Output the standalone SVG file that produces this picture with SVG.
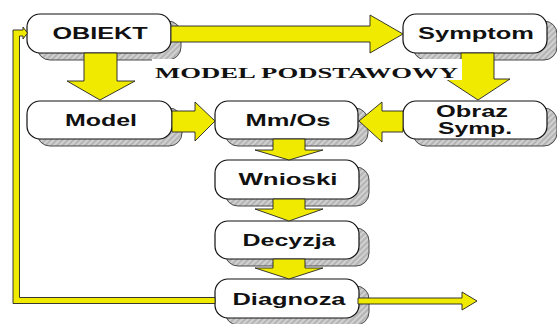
<svg xmlns="http://www.w3.org/2000/svg" width="557" height="324" viewBox="0 0 557 324">
<defs>
<pattern id="hatch" width="4" height="4" patternUnits="userSpaceOnUse" patternTransform="rotate(45)">
<rect width="4" height="4" fill="#b4b4b4"/>
<line x1="1" y1="0" x2="1" y2="4" stroke="#dedede" stroke-width="1.4"/>
</pattern>
</defs>
<style>
.sh{fill:url(#hatch);stroke:#4a4a4a;stroke-width:1}
.bx{fill:#fff;stroke:#111;stroke-width:1.2}
.lb{font-family:"Liberation Sans",Arial,sans-serif;font-weight:bold;font-size:16px;fill:#111;text-anchor:middle}
.ar{fill:#f0ea00;stroke:#222;stroke-width:0.9;stroke-linejoin:miter}
.ttl{font-family:"Liberation Serif","Times New Roman",serif;font-weight:bold;font-size:15px;fill:#111}
</style>
<rect width="557" height="324" fill="#fff"/>

<g id="obiekt">
<rect class="sh" x="37" y="21" width="144" height="39" rx="13"/>
<rect class="bx" x="27" y="14" width="144" height="39" rx="13"/>
<text class="lb" x="100" y="38.5" textLength="95" lengthAdjust="spacingAndGlyphs">OBIEKT</text>
</g>
<g id="symptom">
<rect class="sh" x="413" y="21" width="144" height="39" rx="13"/>
<rect class="bx" x="403" y="14" width="144" height="39" rx="13"/>
<text class="lb" x="476" y="38.5" textLength="116" lengthAdjust="spacingAndGlyphs">Symptom</text>
</g>
<g id="model">
<rect class="sh" x="37" y="108" width="145" height="38" rx="13"/>
<rect class="bx" x="27" y="101" width="145" height="38" rx="13"/>
<text class="lb" x="101" y="126" textLength="72" lengthAdjust="spacingAndGlyphs">Model</text>
</g>
<g id="mmos">
<rect class="sh" x="225" y="108" width="143" height="38" rx="13"/>
<rect class="bx" x="215" y="101" width="143" height="38" rx="13"/>
<text class="lb" x="288" y="126" textLength="85" lengthAdjust="spacingAndGlyphs">Mm/Os</text>
</g>
<g id="obraz">
<rect class="sh" x="413" y="108" width="144" height="38" rx="13"/>
<rect class="bx" x="403" y="101" width="144" height="38" rx="13"/>
<text class="lb" x="472" y="117" textLength="72" lengthAdjust="spacingAndGlyphs">Obraz</text>
<text class="lb" x="475" y="134" textLength="74" lengthAdjust="spacingAndGlyphs">Symp.</text>
</g>
<g id="wnioski">
<rect class="sh" x="225" y="167" width="144" height="39" rx="13"/>
<rect class="bx" x="215" y="160" width="144" height="39" rx="13"/>
<text class="lb" x="288" y="185" textLength="99" lengthAdjust="spacingAndGlyphs">Wnioski</text>
</g>
<g id="decyzja">
<rect class="sh" x="225" y="228" width="144" height="38" rx="13"/>
<rect class="bx" x="215" y="221" width="144" height="38" rx="13"/>
<text class="lb" x="289" y="246" textLength="93" lengthAdjust="spacingAndGlyphs">Decyzja</text>
</g>
<g id="diagnoza">
<rect class="sh" x="225" y="286" width="144" height="39" rx="13"/>
<rect class="bx" x="215" y="279" width="144" height="39" rx="13"/>
<text class="lb" x="289" y="305" textLength="113" lengthAdjust="spacingAndGlyphs">Diagnoza</text>
</g>

<g id="connectors">
<!-- OBIEKT -> Symptom -->
<polygon class="ar" points="171,26 370,26 370,15 403,34 370,53 370,42 171,42"/>
<!-- OBIEKT -> Model -->
<polygon class="ar" points="84,53 117,53 117,81 135,81 100,100 67,81 84,81"/>
<!-- Symptom -> Obraz -->
<polygon class="ar" points="461,53 494,53 494,79 510,79 478,100 446,79 461,79"/>
<!-- Model -> Mm/Os -->
<polygon class="ar" points="172,111 195,111 195,102 215,121 195,141 195,132 172,132"/>
<!-- Obraz -> Mm/Os -->
<polygon class="ar" points="403,111 382,111 382,102 359,121 382,142 382,132 403,132"/>
<!-- Mm/Os -> Wnioski -->
<polygon class="ar" points="273,139 305,139 305,150 323,150 289,160 255,150 273,150"/>
<!-- Wnioski -> Decyzja -->
<polygon class="ar" points="273,199 305,199 305,209 323,209 289,221 255,209 273,209"/>
<!-- Decyzja -> Diagnoza -->
<polygon class="ar" points="273,259 305,259 305,268 323,268 289,279 255,268 273,268"/>
<!-- Diagnoza -> out -->
<polygon class="ar" points="358,298 462,298 462,292 477,301 462,310 462,304 358,304"/>
<!-- feedback Diagnoza -> OBIEKT -->
<polygon class="ar" points="215,297.5 19.5,297.5 19.5,36 23,36 23,39 27.5,33 23,27 23,30 13,30 13,303.5 215,303.5"/>
</g>

<g id="title">
<rect x="152" y="59" width="310" height="21" fill="#fff"/>
<text class="ttl" x="155" y="78" textLength="303" lengthAdjust="spacingAndGlyphs">MODEL PODSTAWOWY</text>
</g>
</svg>
